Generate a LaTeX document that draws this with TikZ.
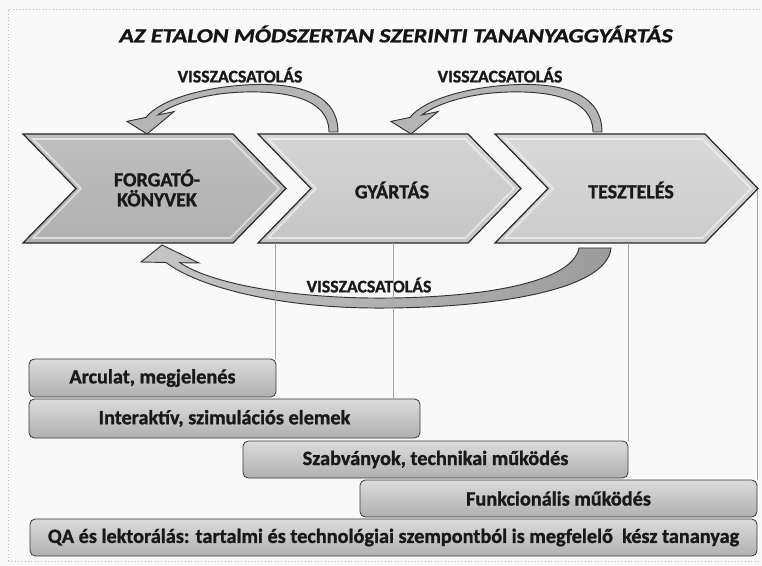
\documentclass[tikz,border=0pt]{standalone}
\usepackage{fontspec}
\setmainfont{Carlito}[BoldFeatures={FakeBold=1.2}, BoldItalicFeatures={FakeBold=1.2}]
\tikzset{
  chevfill/.style={draw=black!85, line width=0.9pt, line join=miter},
  bevel/.style={draw=white, opacity=0.55, line width=1.3pt},
  chevlabel/.style={font=\fontsize{15}{15}\selectfont\bfseries, text=black!90, align=center, inner sep=0pt},
  fblabel/.style={font=\fontsize{13.3}{14}\selectfont\bfseries, text=black!90, inner sep=0pt},
  fbarrow/.style={draw=black!80, line width=0.7pt, fill=gray!58},
  guide/.style={draw=gray!70, line width=0.4pt},
  bar/.style={rounded corners=4pt, draw=gray!45!black, line width=0.6pt,
    top color=gray!28, bottom color=gray!62, inner sep=0pt,
    font=\fontsize{15.2}{16}\selectfont\bfseries, text=black!90},
  pics/chevron/.style={code={
    \path[chevfill, #1] (0,0) -- (210,0) -- (263,54.5) -- (210,109) -- (0,109) -- (53,54.5) -- cycle;
    \path[bevel] (10,5) -- (207.5,5) -- (256,54.5) -- (207.5,104) -- (10,104) -- (58,54.5) -- cycle;
  }},
  pics/toparrow/.style={code={
    \path[fbarrow] (338,132) .. controls (338,90) and (290,82) .. (245,85)
      .. controls (200,88) and (160,100) .. (146,117.4) -- (127,121.4) -- (147,134) -- (174,111.6)
      -- (158,114.9) .. controls (172,104) and (205,93) .. (245,92)
      .. controls (285,91) and (329,98) .. (329,132) -- cycle;
  }}
}
\begin{document}
\begin{tikzpicture}[x=0.75pt,y=-0.75pt]
\useasboundingbox (0,0) rectangle (762,566);
\fill[gray!5] (0,0) rectangle (762,566);
\draw[gray!55, dotted, line width=0.5pt] (8,561) -- (8,9) -- (761,9);
\draw[gray!55, dotted, line width=0.5pt] (8,561) -- (761,561);

% title
\node[font=\fontsize{15}{16}\selectfont\bfseries\itshape, text=black!92, inner sep=0pt] (title) at (396,34) {\scalebox{1.2}[1]{AZ ETALON MÓDSZERTAN SZERINTI TANANYAGGYÁRTÁS}};

% feedback arrows
\pic at (0,0) {toparrow};
\pic at (264,0) {toparrow};
\path[draw=black!80, line width=0.7pt, left color=gray!45, right color=gray!78]
  (611,248) .. controls (607,293) and (480,309) .. (370,308)
  .. controls (280,307) and (200,288) .. (166,262.5) -- (141,262) -- (162,245) -- (199,263)
  -- (180,262.7) .. controls (210,283) and (285,297) .. (370,298)
  .. controls (470,299) and (572,285) .. (579,248) -- cycle;

% chevrons
\pic at (23,134) {chevron={top color=gray!50, bottom color=gray!62}};
\pic at (258,134) {chevron={top color=gray!33, bottom color=gray!45}};
\pic at (495,134) {chevron={top color=gray!30, bottom color=gray!40}};

\node[chevlabel] (c1) at (157,188) {FORGATÓ-\\KÖNYVEK};
\node[chevlabel] (c2) at (392,190) {GYÁRTÁS};
\node[chevlabel] (c3) at (631,190) {TESZTELÉS};

\node[fblabel] (fb1) at (240,75) {VISSZACSATOLÁS};
\node[fblabel] (fb2) at (500,75) {VISSZACSATOLÁS};
\node[fblabel] (fb3) at (369,285) {VISSZACSATOLÁS};

% guide lines
\coordinate (g1) at (275,243);
\coordinate (g2) at (393,243);
\coordinate (g3) at (628,243);
\coordinate (g4) at (757,190);

% bars
\node[bar, minimum width=247*0.75pt, minimum height=38*0.75pt] (b1) at (152.5,378) {Arculat, megjelenés};
\node[bar, minimum width=391*0.75pt, minimum height=39*0.75pt] (b2) at (224.5,418.5) {Interaktív, szimulációs elemek};
\node[bar, minimum width=385*0.75pt, minimum height=37*0.75pt] (b3) at (435.5,459.5) {Szabványok, technikai működés};
\node[bar, minimum width=397*0.75pt, minimum height=37*0.75pt] (b4) at (558.5,498.5) {Funkcionális működés};
\node[bar, minimum width=727*0.75pt, minimum height=37*0.75pt] (b5) at (393.5,537.5) {QA és lektorálás: tartalmi és technológiai szempontból is megfelelő\ \ kész tananyag};

\draw[guide] (g1) -- (g1 |- b1.north);
\draw[guide] (g2) -- (g2 |- b2.north);
\draw[guide] (g3) -- (g3 |- b3.north);
\draw[guide] (g4) -- (g4 |- b4.north);
\end{tikzpicture}
\end{document}
